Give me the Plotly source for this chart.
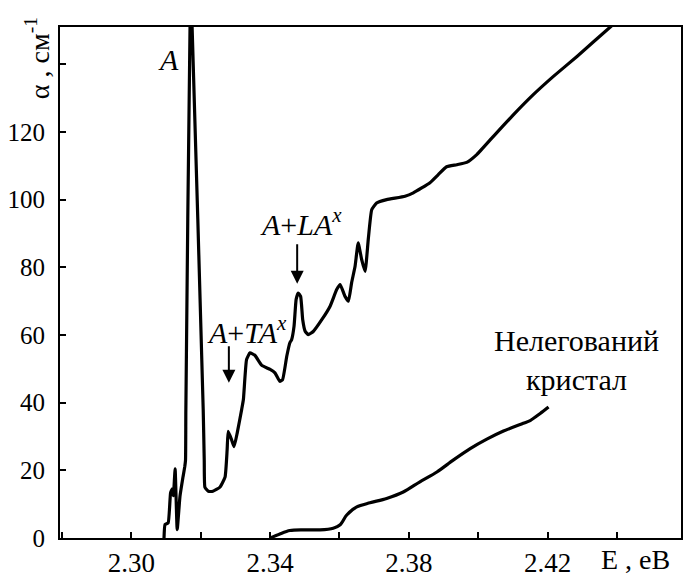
import plotly.graph_objects as go

# Doped crystal absorption spectrum (E in eV, alpha in cm^-1)
doped_E = [
    2.3094, 2.3097, 2.3106, 2.3113, 2.3118, 2.3121, 2.3126, 2.3132, 2.3140, 2.3149,
    2.3154, 2.3156, 2.3157, 2.3169, 2.3172, 2.3175, 2.3207, 2.3210, 2.3212, 2.3222,
    2.3235, 2.3255, 2.3270, 2.3276, 2.3279, 2.3289, 2.3296, 2.3305, 2.3318, 2.3323,
    2.3332, 2.3342, 2.3356, 2.3376, 2.3400, 2.3414, 2.3428, 2.3436, 2.3448, 2.3457,
    2.3462, 2.3469, 2.3475, 2.3481, 2.3488, 2.3494, 2.3501, 2.3510, 2.3525, 2.3549,
    2.3573, 2.3592, 2.3602, 2.3616, 2.3626, 2.3635, 2.3645, 2.3654, 2.3664, 2.3674,
    2.3683, 2.3693, 2.3707, 2.3736, 2.3789, 2.3813, 2.3861, 2.3885, 2.3909, 2.3938,
    2.3967, 2.3996, 2.4044, 2.4102, 2.4159, 2.4217, 2.4285, 2.4381, 2.4420,
]
doped_alpha = [
    0, 4, 4.5, 13.4, 14.5, 12.5, 20.4, 2.5, 12.3, 18.2,
    21.2, 23, 38, 151, 157, 151, 38, 23, 15, 13.8,
    13.8, 15, 18, 26, 31.5, 29, 27, 31, 38, 41,
    52.7, 54.7, 54, 51, 49.8, 48.8, 46.3, 46.8, 53.7, 57.7,
    58.6, 62.6, 70.5, 72.4, 71.4, 64.5, 61.1, 60.1, 61.1, 64.5,
    68.5, 73.4, 74.9, 71.4, 70, 75.4, 80.3, 87.2, 82.3, 78.8,
    88.2, 97, 99, 100, 101, 102, 105, 107.4, 109.7, 110.3,
    111, 113.3, 118.7, 125.1, 131, 136.4, 142.3, 151, 154.4,
]

# Undoped crystal
undoped_E = [
    2.3400, 2.3428, 2.3457, 2.3496, 2.3544, 2.3582, 2.3602, 2.3621, 2.3650, 2.3688,
    2.3736, 2.3784, 2.3832, 2.3881, 2.3928, 2.3977, 2.4025, 2.4073, 2.4130, 2.4150,
    2.4179, 2.4203,
]
undoped_alpha = [
    0, 1.2, 2.2, 2.4, 2.4, 2.9, 3.9, 6.8, 9.2, 10.4,
    11.7, 13.6, 16.6, 19.5, 23, 26.4, 29.2, 31.6, 33.9, 34.7,
    36.8, 38.7,
]

x_tickvals = [2.30, 2.34, 2.38, 2.42]
x_ticktext = ["2.30", "2.34", "2.38", "2.42"]
y_tickvals = [0, 20, 40, 60, 80, 100, 120]
y_ticktext = ["0", "20", "40", "60", "80", "100", "120"]

SERIF = "'Liberation Serif', 'Times New Roman', 'DejaVu Serif', serif"

fig = go.Figure()
fig.add_trace(go.Scatter(x=doped_E, y=doped_alpha, mode="lines",
                         line=dict(color="black", width=3.2, shape="spline", smoothing=0.4),
                         showlegend=False))
fig.add_trace(go.Scatter(x=undoped_E, y=undoped_alpha, mode="lines",
                         line=dict(color="black", width=3.2, shape="spline", smoothing=0.8),
                         showlegend=False))

axis_common = dict(showline=True, linecolor="black", linewidth=2, mirror=True,
                   ticks="inside", ticklen=6, tickwidth=1.5, tickcolor="black",
                   showgrid=False, zeroline=False, automargin=False)

fig.update_xaxes(range=[2.2794, 2.4585], tickmode="array",
                 tickvals=x_tickvals, ticktext=x_ticktext,
                 tickfont=dict(family=SERIF, size=27, color="black"),
                 minor=dict(tick0=2.30, dtick=0.02, ticks="inside", ticklen=6,
                            tickwidth=1.5, tickcolor="black", showgrid=False),
                 **axis_common)
fig.update_yaxes(range=[0, 151], tickmode="array",
                 tickvals=y_tickvals, ticktext=y_ticktext,
                 tickfont=dict(family=SERIF, size=25, color="black"),
                 ticklabelstandoff=8,
                 minor=dict(tick0=0, dtick=20, ticks="inside", ticklen=6,
                            tickwidth=1.5, tickcolor="black", showgrid=False),
                 **axis_common)

ann_font = dict(family=SERIF, size=30, color="black")

annotations = [
    dict(x=2.3108, y=141.3, xref="x", yref="y", text="<i>A</i>",
         showarrow=False, font=ann_font),
    dict(x=2.3333, y=61.5, xref="x", yref="y",
         text="<i>A</i>+<i>TA</i><sup><i>x</i></sup>",
         showarrow=False, font=ann_font),
    dict(x=2.3490, y=93.5, xref="x", yref="y",
         text="<i>A</i>+<i>LA</i><sup><i>x</i></sup>",
         showarrow=False, font=ann_font),
    dict(x=2.3281, y=45.9, xref="x", yref="y", text="", showarrow=True,
         ax=0, ay=-38, arrowhead=2, arrowsize=1.3, arrowwidth=2,
         arrowcolor="black"),
    dict(x=2.3478, y=75.1, xref="x", yref="y", text="", showarrow=True,
         ax=0, ay=-41, arrowhead=2, arrowsize=1.3, arrowwidth=2,
         arrowcolor="black"),
    dict(x=2.4283, y=52.6, xref="x", yref="y", text="Нелегований<br>кристал",
         showarrow=False, font=ann_font),
    dict(x=0.9275, y=-0.043, xref="paper", yref="paper", text="E , еВ",
         showarrow=False, font=dict(family=SERIF, size=28, color="black"),
         xanchor="center", yanchor="middle"),
    dict(x=-0.037, y=0.939, xref="paper", yref="paper",
         text="α , см<sup>-1</sup>", textangle=-90,
         showarrow=False, font=dict(family=SERIF, size=28, color="black"),
         xanchor="center", yanchor="middle"),
]

fig.update_layout(width=685, height=577,
                  margin=dict(l=60, r=4, t=27, b=39),
                  paper_bgcolor="white", plot_bgcolor="white",
                  annotations=annotations)

fig.write_html("out.html")
